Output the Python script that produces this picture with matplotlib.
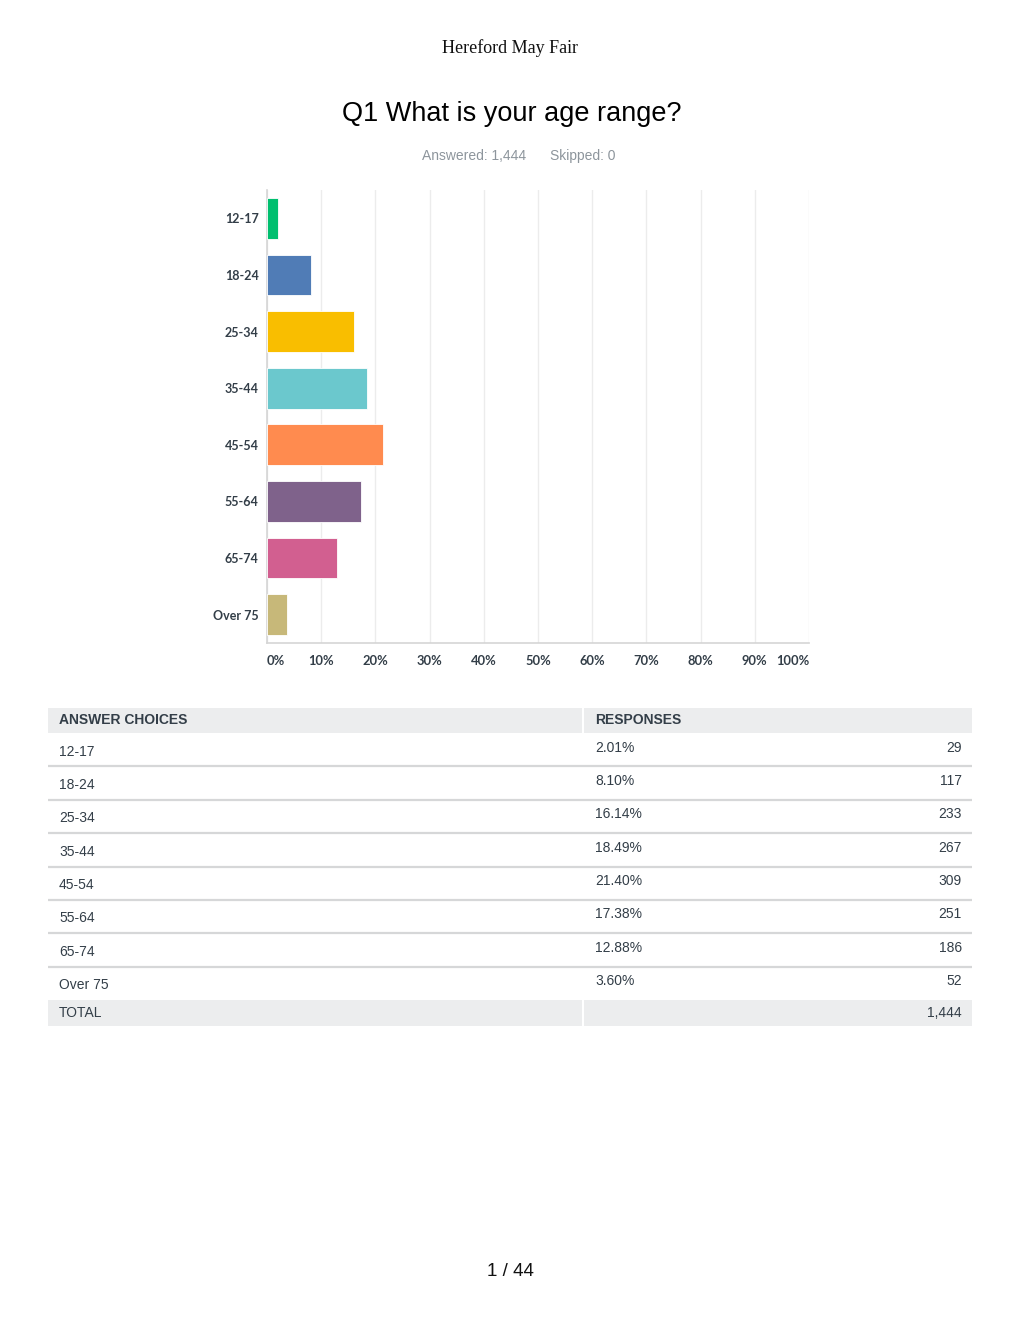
import matplotlib
matplotlib.use("Agg")
import matplotlib.pyplot as plt
from matplotlib.patches import Rectangle

# ---- data ----
categories = ["12-17", "18-24", "25-34", "35-44", "45-54", "55-64", "65-74", "Over 75"]
percents = [2.01, 8.10, 16.14, 18.49, 21.40, 17.38, 12.88, 3.60]
counts = [29, 117, 233, 267, 309, 251, 186, 52]
pct_labels = ["2.01%", "8.10%", "16.14%", "18.49%", "21.40%", "17.38%", "12.88%", "3.60%"]
count_labels = ["29", "117", "233", "267", "309", "251", "186", "52"]
total_label = "1,444"
xticks = [0, 10, 20, 30, 40, 50, 60, 70, 80, 90, 100]
xtick_labels = ["0%", "10%", "20%", "30%", "40%", "50%", "60%", "70%", "80%", "90%", "100%"]
colors = ["#00BF6F", "#507CB6", "#F9BE00", "#6BC8CD", "#FF8B4F", "#7F628B", "#D25F90", "#C7B879"]

W, H = 1020, 1320
fig = plt.figure(figsize=(W / 100, H / 100), dpi=100)
fig.patch.set_facecolor("white")

def fx(px):
    return px / W

def fy(py):
    return 1 - py / H

# ---- page texts ----
fig.text(fx(510), fy(48), "Hereford May Fair", family="Liberation Serif", fontsize=13,
         ha="center", va="center", color="#111111")
fig.text(fx(512), fy(114), "Q1 What is your age range?", family="Liberation Sans", fontsize=19.5,
         ha="center", va="center", color="#000000")
fig.text(fx(474), fy(156), "Answered: 1,444", family="Liberation Sans", fontsize=10,
         ha="center", va="center", color="#8d959c")
fig.text(fx(583), fy(156), "Skipped: 0", family="Liberation Sans", fontsize=10,
         ha="center", va="center", color="#8d959c")
fig.text(fx(510), fy(1271), "1 / 44", family="Liberation Sans", fontsize=13.5,
         ha="center", va="center", color="#111111")

# ---- bar chart ----
left, right, top, bottom = 267, 809, 190, 643
ax = fig.add_axes([fx(left), fy(bottom), fx(right - left), (bottom - top) / H])
ypos = list(range(len(categories)))
ax.barh(ypos, percents, height=0.72, color=colors, edgecolor="white", linewidth=0.6, zorder=3)
ax.set_xlim(0, 100)
ax.set_ylim(len(categories) - 0.5, -0.5)
ax.set_yticks(ypos)
ax.set_yticklabels(categories, family="Lato", fontweight="bold", fontsize=9, color="#333e48")
ax.set_xticks(xticks)
ax.set_xticklabels(xtick_labels, family="Lato", fontweight="bold", fontsize=9.3, color="#333e48")
labels = ax.get_xticklabels()
labels[0].set_ha("left")
labels[-1].set_ha("right")
ax.tick_params(axis="both", length=0)
ax.tick_params(axis="y", pad=6)
ax.tick_params(axis="x", pad=9)
ax.grid(axis="x", color="#ececec", linewidth=1, zorder=0)
for s in ["top", "right"]:
    ax.spines[s].set_visible(False)
for s in ["left", "bottom"]:
    ax.spines[s].set_color("#d5d5d5")
    ax.spines[s].set_linewidth(1.2)

# ---- table ----
tax = fig.add_axes([0, 0, 1, 1])
tax.set_xlim(0, W)
tax.set_ylim(H, 0)
tax.axis("off")

hdr_bg = "#ecedee"
txt = "#333e48"
# header
tax.add_patch(Rectangle((48, 708), 534, 25, color=hdr_bg, lw=0))
tax.add_patch(Rectangle((584, 708), 388, 25, color=hdr_bg, lw=0))
tax.text(59, 720.5, "ANSWER CHOICES", family="Liberation Sans", fontweight="bold", fontsize=10,
         color=txt, ha="left", va="center")
tax.text(595, 720.5, "RESPONSES", family="Liberation Sans", fontweight="bold", fontsize=10,
         color=txt, ha="left", va="center")

row_top = 733
row_h = 33.4
for i, cat in enumerate(categories):
    y0 = row_top + i * row_h
    tax.text(59, y0 + 18.5, cat, family="Liberation Sans", fontsize=10, color=txt,
             ha="left", va="center")
    tax.text(595, y0 + 14.5, pct_labels[i], family="Liberation Sans", fontsize=10, color=txt,
             ha="left", va="center")
    tax.text(962, y0 + 14.5, count_labels[i], family="Liberation Sans", fontsize=10, color=txt,
             ha="right", va="center")
    if i < len(categories) - 1:
        tax.plot([48, 972], [y0 + row_h, y0 + row_h], color="#d6d7d8", lw=1.6,
                 solid_capstyle="butt")

ty = row_top + len(categories) * row_h
tax.add_patch(Rectangle((48, ty), 534, 26, color=hdr_bg, lw=0))
tax.add_patch(Rectangle((584, ty), 388, 26, color=hdr_bg, lw=0))
tax.text(59, ty + 13, "TOTAL", family="Liberation Sans", fontsize=10, color=txt,
         ha="left", va="center")
tax.text(962, ty + 13, total_label, family="Liberation Sans", fontsize=10, color=txt,
         ha="right", va="center")

fig.savefig("out.png", dpi=100, facecolor="white")
